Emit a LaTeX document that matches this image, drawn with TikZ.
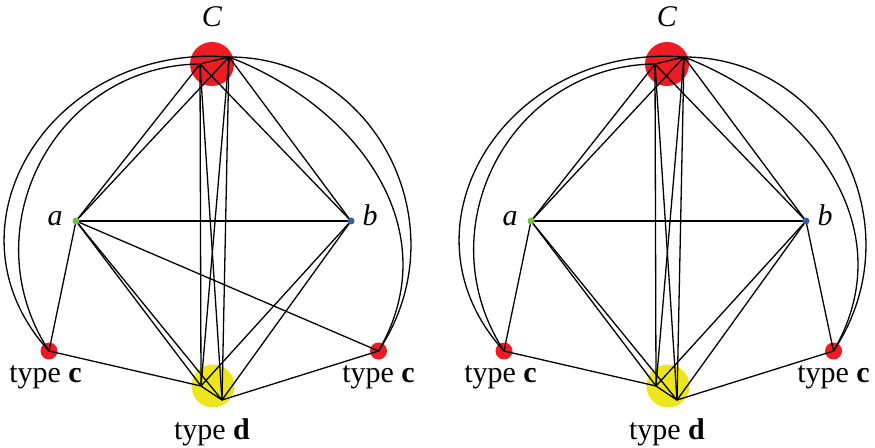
\documentclass[tikz,border=0pt]{standalone}
\usepackage{fontspec}
\setmainfont{Liberation Serif}
\definecolor{nodered}{RGB}{237,28,36}
\definecolor{nodeyellow}{RGB}{238,230,28}
\definecolor{nodegreen}{RGB}{114,191,68}
\definecolor{nodeblue}{RGB}{59,91,168}
\begin{document}
\begin{tikzpicture}[x=1bp,y=-1bp,
  edge/.style={line width=1.3bp, black},
  bigred/.style={circle, fill=nodered, minimum size=44bp, inner sep=0pt},
  bigyellow/.style={circle, fill=nodeyellow, minimum size=43bp, inner sep=0pt},
  smallred/.style={circle, fill=nodered, minimum size=17bp, inner sep=0pt},
  vdot/.style={circle, minimum size=7bp, inner sep=0pt},
  lbl/.style={font=\fontsize{30bp}{36bp}\selectfont, inner sep=0pt, anchor=base}]
\useasboundingbox (0,0) rectangle (875,448);
\foreach \p/\s/\u in {L/0/a,R/455/b}{
\begin{scope}[shift={(\s,0)}]
  \node[bigred] (\p C) at (212,64) {};
  \node[bigyellow] (\p D) at (213,386) {};
  \node[smallred] (\p cl) at (49,351) {};
  \node[smallred] (\p cr) at (378.5,351) {};
  \coordinate (\p C1) at (200,64);
  \coordinate (\p C2) at (229,57);
  \coordinate (\p d1) at (201,386);
  \coordinate (\p d2) at (222,400);
  \coordinate (\p a) at (76,221);
  \coordinate (\p b) at (351,221);
  % arcs
  \draw[edge] (\p C2) .. controls +(-178.5,-13.9) and +(-112.8,-123.5) .. (\p cl.center);
  \draw[edge] (\p C1) .. controls +(-144.8,1.5) and +(-79.5,-122.4) .. (\p cl.center);
  \draw[edge] (\p C2) .. controls +(146.5,0) and +(83.1,-124.5) .. (\p cr.center);
  \draw[edge] (\p C2) .. controls +(130,50) and +(70,-120) .. (\p cr.center);
  % straight edges
  \draw[edge] (\p C1) -- (\p C2);
  \draw[edge] (\p C1) -- (\p a);
  \draw[edge] (\p C2) -- (\p a);
  \draw[edge] (\p C1) -- (\p b);
  \draw[edge] (\p C2) -- (\p b);
  \draw[edge] (\p C1) -- (\p d1);
  \draw[edge] (\p C1) -- (\p d2);
  \draw[edge] (\p C2) -- (\p d1);
  \draw[edge] (\p C2) -- (\p d2);
  \draw[edge] (\p a) -- (\p b);
  \draw[edge] (\p a) -- (\p d1);
  \draw[edge] (\p a) -- (\p d2);
  \draw[edge] (\p b) -- (\p d1);
  \draw[edge] (\p b) -- (\p d2);
  \draw[edge] (\p a) -- (\p cl.center);
  \draw[edge] (\p\u) -- (\p cr.center);
  \draw[edge] (\p cl.center) -- (\p d1);
  \draw[edge] (\p cr.center) -- (\p d2);
  \draw[edge] (\p d1) -- (\p d2);
  % small vertices
  \node[vdot, fill=nodegreen] (\p adot) at (\p a) {};
  \node[vdot, fill=nodeblue] (\p bdot) at (\p b) {};
  % labels
  \node[lbl] (\p Clabel) at (212,27) {\textit{C}};
  \node[lbl] (\p alabel) at (55,226) {\textit{a}};
  \node[lbl] (\p blabel) at (370,226) {\textit{b}};
  \node[lbl] (\p cllabel) at (45.5,383) {type \textbf{c}};
  \node[lbl] (\p crlabel) at (378.5,383) {type \textbf{c}};
  \node[lbl] (\p dlabel) at (212,439) {type \textbf{d}};
\end{scope}}
\end{tikzpicture}
\end{document}
